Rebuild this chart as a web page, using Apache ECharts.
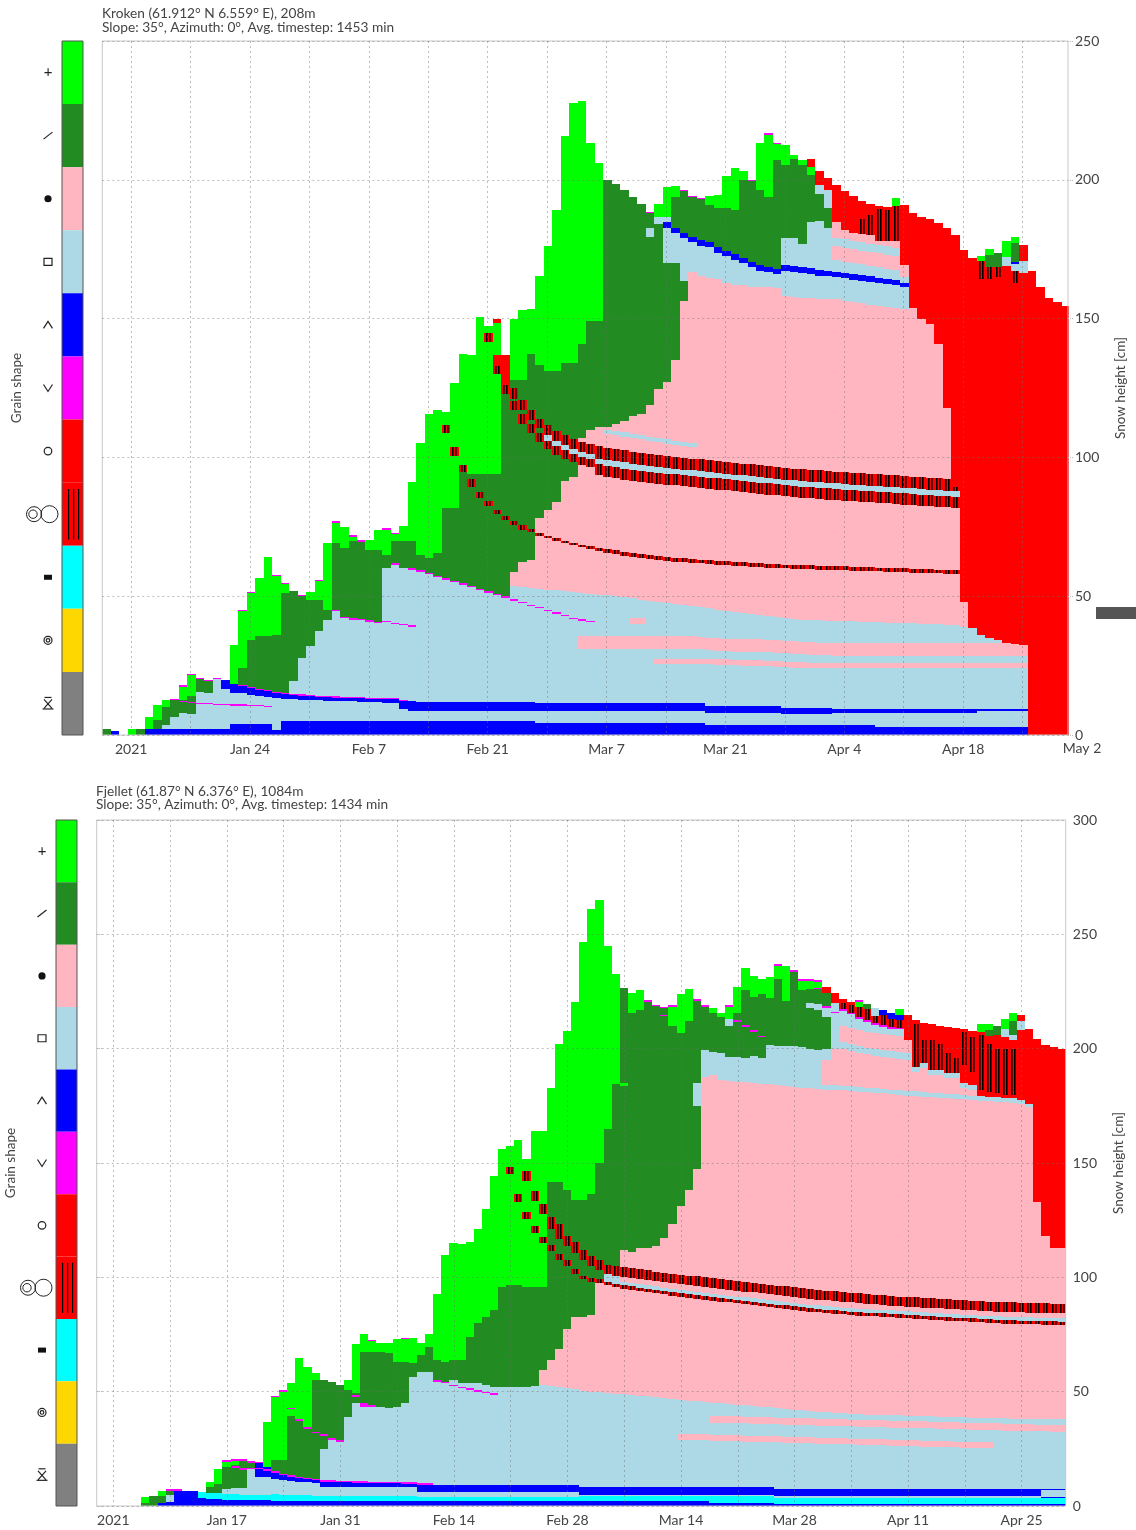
<!DOCTYPE html>
<html><head><meta charset="utf-8">
<script src="https://cdn.jsdelivr.net/npm/echarts@6/dist/echarts.min.js"></script>
<style>html,body{margin:0;padding:0;background:#fff}#c{width:1136px;height:1530px}</style>
</head><body><div id="c"></div>
<script>
// grain shape codes, colours and legend order
const grainCodes = ['g','d','p','l','b','m','r','c','i','y','k'];
const grainColors = ['#00ff00','#228b22','#ffb6c1','#add8e6','#0000ff','#ff00ff','#ff0000','#ff0000','#00ffff','#ffd700','#808080'];

// ---------- Kroken (top) : one string per daily column, "type+top height(cm)" from ground up
const krokenFirstColumnDay = 5.6; // days since Jan 1 2021 (left edge of first column)
const krokenColumns = [
"d2","b1.3","","g2","d2","b2 g6.5","b2 d5.4 g10.7","b2 l3.6 d10 g12.7","b2 l6.5 d12.5 m13.1",
"b2 l7.9 d11.8 m12.3 d12.6 g17.4 m17.9","b2 l7.5 d11.5 m12 d13.9 g21.6 m22.1",
"b2 l11.2 m11.7 l15.5 d20.3 m20.7","b2 l11 m11.5 l15 d19.5 m19.9","b2 l10.8 m11.3 l20.2 m20.7",
"b2 l10.7 m11.2 l16.5 b19.9","b4.1 l10.6 m11.1 l15.3 b18.5 g32.3",
"b4.1 l10.5 m11 l15.1 b17.7 m18.1 d24.3 g44.5 m45","b4.1 l10.4 m10.9 l14.5 b16.9 m17.3 d34.3 g51.1 m51.6",
"b4.1 l10.3 m10.8 l13.9 b16.3 m16.7 d35.5 g56.7","b4.1 l10.1 m10.6 l13.7 b15.7 m16.1 d35.5 g64.3",
"b1.9 l13.3 b15.1 m15.5 d36 g57.3 m57.8","b5.1 l13.1 b14.7 m15.1 d51.1 g54.3 m54.8",
"b5.1 l12.9 b14.5 m14.9 l19.3 d51.7","b5.1 l12.7 b14.2 m14.6 l27.7 d50 m50.4",
"b5.1 l12.6 b14 m14.4 l31.9 d48.7 g51.5","b5.1 l12.5 b13.8 m14.2 l37.3 d48.7 g55.5 m56",
"b5.1 l12.4 b13.6 m14 l41.5 d45.1 g69.1","b5.1 l12.3 b13.5 m13.9 l44.5 m45 d69.1 g76.5 m77",
"b5.1 l12.2 b13.4 m13.8 l42.1 m42.6 d67.3 g75.1","b5.1 l12.1 b13.3 m13.7 l41.5 m42 d70 g71.5 m71.9",
"b5.1 l12 b13.2 m13.6 l41.3 m41.8 d69.6 m70.1","b5.1 l11.9 b13.1 m13.5 l40.8 m41.3 d66.7 g70.3",
"b5.1 l11.8 b13 m13.4 l40.2 m40.7 d66.7 g73.9","b5.1 l11.7 b12.9 m13.3 l40.6 m41.1 l60.1 d64.9 g74 m74.5",
"b5.1 l11.6 b12.8 m13.2 l40 m40.5 l61.3 m61.8 d70 g72.5 m72.9","b5.1 l9.3 b12.1 m12.5 l39.5 m40 l60.1 d70 g75.3",
"b5 l8.8 b12.1 l39 m39.5 l59.5 m60 d70 g91","b5 l8.8 b12 l58.8 m59.3 d65 g105.1",
"b5 l8.8 b12 l57.9 m58.4 d63.7 g115.8","b5 l8.8 b12 l56.9 m57.4 d65.6 g117.1",
"b5 l8.8 b12 l56 m56.5 d81.7 g108.8 c111.7 g116.5","b5 l8.8 b12 l55 m55.5 d81.7 g100.4 c103.6 g126.8",
"b5 l8.8 b12 l54.1 m54.6 d94.7 c97.2 g137.1","b5 l8.8 b12 l53.2 m53.7 d89.5 c92.3 d94 g137",
"b5 l8.8 b12 l52.2 m52.7 d85.5 c87.5 d94 g150.6","b5 l8.8 b12 l51.3 m51.8 d82.5 c84.3 d94 g141.6 c144.8 g147.4",
"b5 l8.8 b12 l50.3 m50.8 d79.5 c81.1 d94 g130 c133 r136.8 g148.4 r150",
"b5 l8.8 b12 l49.4 m49.9 d77.3 c78.9 d123 c126 r136.8",
"b5 l8.8 b12 l48.4 m48.9 l53.5 p58.6 d75.5 c77 d117.1 c120.3 d121 c125 d128 g150",
"b5 l8.8 b12 l47.5 m48 l53.3 p62.4 d74 c75.5 d112 c115.8 d117 c120.5 d128 g153.2",
"b5 l8.8 b12 l46.5 m47 l53 p63 d73 c74.3 d108.8 c112 d113.5 c117 d137.1 g153.5",
"b4.5 l8.5 b11.5 l45.6 m46.1 l52.7 p71.8 c72.7 p78 d105.5 c108.8 d110.5 c114 d133.2 g165.4",
"b4.5 l8.5 b11.5 l44.7 m45.2 l52.4 p70.8 c71.7 p81 d103 c106 l108 c111.5 d131.3 g176.1",
"b4.5 l8.5 b11.5 l43.7 m44.2 l52.1 p70 c70.8 p84 d101 c104 l106 c109.5 d131.3 g189.2",
"b4.5 l8.5 b11.5 l42.8 m43.3 l51.8 p69.2 c70 p91.5 d99.5 c102.5 l104.5 c108 d133.9 g215.8",
"b4.5 l8.5 b11.5 l41.8 m42.3 l51.5 p68.4 c69.2 p93 d98.3 c101.3 l103 c106.5 d133.9 g227.8",
"b4.5 l8.5 b11.5 l31 p35.5 l41.2 m41.7 l51.2 p67.6 c68.4 p97.3 c100.3 l102 c105.5 p107 d140.9 g228.4",
"b4.5 l8.5 b11.5 l31 p35.5 l40.7 m41.2 l50.9 p66.9 c68.2 p96.5 c99.5 l101.2 c104.8 p110 d149.3 g213.3",
"b4.5 l8.5 b11.5 l31 p35.5 l50.6 p66.2 c67.5 p93.5 c97.5 l99.5 c104 p111 d149.3 g205.9",
"b4.5 l8.5 b11.5 l31 p35.5 l50.3 p65.6 c67 p93 c97 l99.2 c103.5 p108.5 l110 p111 d199.9",
"b4.5 l8.5 b11.5 l31 p35.5 l50 p65.1 c66.5 p92.5 c96.5 l98.7 c103 p108 l109.5 p112 d198.6",
"b4.5 l8.5 b11.5 l31 p35.5 l49.6 p64.6 c66 p92 c96 l98.2 c102.5 p107.5 l109 p113 d196.3",
"b4.5 l8.5 b11.5 l31 p35.5 l40 p42 l49.2 p64.2 c65.6 p91.5 c95.5 l97.5 c102 p107 l108.5 p115 d193.7",
"b4.5 l8.5 b11.5 l31 p35.5 l40 p42 l48.8 p63.8 c65.2 p91.2 c95.2 l97.3 c101.6 p106.5 l108 p115.8 d191.4",
"b4.5 l8.5 b11.5 l31 p35.5 l48.4 p63.4 c64.8 p90.8 c94.8 l97 c101.2 p106 l107.5 p119 d179.5 l182.7 d188 m188.5",
"b4.5 l8.5 b11.5 l25.5 p27.5 l31 p35.5 l48 p63.1 c64.5 p90.5 c94.5 l96.6 c100.8 p105.5 l107 p124.8 d184 l186.6 g191.4",
"b4.5 l8.5 b11.5 l25.5 p27.5 l31 p35.5 l47.6 p62.8 c64.2 p90.2 c94.2 l96.2 c100.5 p105 l106.5 p127 d170 l182.7 b184.7 l186.5 g197.3",
"b4.5 l8.5 b11.5 l25.5 p27.5 l31 p35.5 l47.2 p62.5 c63.9 p89.9 c93.9 l95.9 c100.2 p104.5 l106 p135 d170 l180.8 b182.7 d193.7 g197.6",
"b4.5 l8.5 b11.5 l25.5 p27.5 l31 p35.5 l46.8 p62.2 c63.6 p89.6 c93.6 l95.6 c99.9 p104 l105.5 p156.4 d163.4 l178.9 b180.8 d195.8 m196.3",
"b4.5 l8.5 b11.5 l25.5 p27.5 l31 p35.5 l46.4 p62 c63.4 p89.3 c93.3 l95.3 c99.6 p103.8 l105.2 p166.7 l177.6 b179.5 d193.8 m194.3",
"b4.5 l8.5 b11.5 l25.5 p27.5 l30.8 p35.3 l46 p61.8 c63.2 p89 c93 l95 c99.3 p165.4 l176.3 b178.2 d193 m193.4",
"b3.5 l8 b10.5 l25.4 p27.4 l30.6 p35.1 l45.6 p61.6 c63 p88.7 c92.7 l94.7 c99 p164.7 l175.7 b177.6 d191.1 g194",
"b3.5 l8 b10.5 l25.3 p27.3 l30.4 p34.9 l45.2 p61.4 c62.8 p88.4 c92.4 l94.4 c98.7 p164.1 l173.7 b175.7 d189.8 g194.7",
"b3.5 l8 b10.5 l25.2 p27.2 l30.2 p34.7 l44.8 p61.2 c62.6 p88.1 c92.1 l94.1 c98.4 p162.8 l172.5 b174.4 d189.8 g201.4",
"b3.5 l8 b10.5 l25.1 p27.1 l30 p34.5 l44.4 p61 c62.4 p87.8 c91.8 l93.8 c98.1 p162.2 l171.2 b173.1 d189.2 g204.4",
"b3.5 l8 b10.5 l25 p27 l30 p34.5 l44 p60.8 c62.2 p87.5 c91.5 l93.5 c97.8 p162.2 l169.9 b171.8 d200.1 g203",
"b3.5 l8 b10.5 l25 p27 l30 p34.5 l43.6 p60.6 c62 p87.2 c91.2 l93.2 c97.5 p161.5 l168.6 b170.5 d199.4 m199.9",
"b3.5 l8 b10.5 l25 p27 l30 p34.5 l43.2 p60.4 c61.8 p86.9 c90.9 l92.9 c97.2 p161.5 l167.3 b169.2 d196.3 g213.3",
"b3.5 l8 b10.5 l24.8 p26.8 l29.8 p34.3 l42.8 p60.2 c61.6 p86.6 c90.6 l92.6 c96.9 p161.5 l166.7 b168.6 d193.7 g216.3 m216.9",
"b3.5 l8 b10.5 l24.6 p26.6 l29.6 p34.1 l42.4 p60.1 c61.5 p86.3 c90.3 l92.3 c96.6 p161 l166 b168 d207.2 g212.8 m213.3",
"b3.5 l7.6 b9.8 l24.4 p26.4 l29.4 p33.9 l42 p60 c61.4 p86 c90 l92 c96.3 p158 l167.1 b169.3 l178.9 d205.3 g212.4",
"b3.5 l7.6 b9.8 l24.3 p26.3 l29.2 p33.7 l41.8 p59.9 c61.3 p85.7 c89.7 l91.7 c96 p157.8 l166.8 b169 l178.9 d207.5 g209",
"b3.5 l7.6 b9.8 l24.2 p26.2 l29 p33.5 l41.6 p59.8 c61.2 p85.4 c89.4 l91.4 c95.7 p157.6 l166.4 b168.6 l176.7 d205.3 g207.2",
"b3.5 l7.6 b9.8 l24.1 p26.1 l28.9 p33.4 l41.4 p59.7 c61.1 p85.2 c89.2 l91.2 c95.5 p157.4 l165.9 b168.3 l184.8 d201.7 g204.6 r207.5",
"b3.5 l7.6 b9.8 l24 p26 l28.8 p33.3 l41.3 p59.6 c61 p85 c89 l91 c95.3 p157.2 l165.5 b167.5 l185 d195 l198 r203.1",
"b3.5 l7.6 b9.8 l24 p26 l28.7 p33.2 l41.2 p59.5 c60.9 p84.8 c88.8 l90.8 c95.1 p157 l165.3 b167.3 l182.5 d190 l196.5 r200.5",
"b3.5 l8 b9.5 l24 p26 l28.6 p33.1 l41.1 p59.4 c60.8 p84.6 c88.6 l90.6 c94.9 p157 l164.9 b166.9 l171 p176 l179 p184.8 r198",
"b3.5 l8 b9.5 l24 p26 l28.5 p33 l41 p59.3 c60.7 p84.4 c88.4 l90.4 c94.7 p156.5 l164.5 b166.5 l170.5 p175.5 l178.5 p181.8 r195.8",
"b3.5 l8 b9.5 l24 p26 l28.5 p33 l40.9 p59.2 c60.6 p84.2 c88.2 l90.2 c94.5 p156 l164 b166 l170 p175 l178 p181 r194",
"b3.5 l8 b9.5 l24 p26 l28.5 p33 l40.8 p59.1 c60.5 p84 c88 l90 c94.3 p155.5 l163.6 b165.6 l169.5 p174.5 l177.5 p180.5 c186 r192.5",
"b3.5 l8 b9.5 l24 p26 l28.5 p33 l40.7 p59 c60.4 p83.8 c87.8 l89.8 c94.1 p155 l163.2 b165.2 l169 p174 l177 p180 c187.5 r191.4",
"b3 l8 b9.5 l24 p26 l28.5 p33 l40.6 p58.9 c60.3 p83.6 c87.6 l89.6 c93.9 p154.6 l162.8 b164.8 l168.5 p173.5 l176.5 p178 c189.5 r190.6",
"b3 l8 b9.5 l24 p26 l28.5 p33 l40.5 p58.8 c60.2 p83.4 c87.4 l89.4 c93.7 p154.2 l162.4 b164.4 l168 p173 l176 p178 c189 r190.2",
"b3 l8 b9.5 l24 p26 l28.5 p33 l40.4 p58.7 c60.1 p83.2 c87.2 l89.2 c93.5 p153.8 l162 b164 l167.5 p172.5 l175.5 p178 c190.6 g193.3",
"b3 l8 b9.5 l24 p26 l28.5 p33 l40.3 p58.6 c60 p83 c87 l89 c93.3 p153.5 l161.5 b163 l165 p169.3 r190.9",
"b3 l8 b9.5 l24 p26 l28.5 p33 l40.2 p58.5 c59.9 p82.8 c86.8 l88.8 c93.1 p153.8 r188",
"b3 l8 b9.5 l24 p26 l28.5 p33 l40.1 p58.4 c59.8 p82.6 c86.6 l88.6 c92.9 p149.8 r186.7",
"b3 l8 b9.5 l24 p26 l28.5 p33 l40 p58.3 c59.7 p82.4 c86.4 l88.4 c92.7 p148 r185.8",
"b3 l8 b9.5 l24 p26 l28.5 p33 l39.9 p58.2 c59.6 p82.2 c86.2 l88.2 c92.5 p140.7 r184.5",
"b3 l8 b9.5 l24 p26 l28.5 p33 l39.8 p58.1 c59.5 p82 c86 l88 c92.3 p117.9 r182.8",
"b3 l8 b9.5 l24 p26 l28.5 p33 l39.7 p58 c59.4 p81.8 c85.8 l87.8 c89.2 r180",
"b3 l8 b9.5 l24 p26 l28.5 p33 l39 p48 r174.8",
"b3 l8 b9.3 l24 p26 l28.5 p33 l38.5 r172",
"b3 l8.5 b9.3 l24 p26 l28.5 p33 l36 r164.2 c170.8 g172.7",
"b3 l8.5 b9.3 l24 p26 l28.5 p33 l34.8 r164.2 c168.6 d173 g175.2",
"b3 l8.5 b9.3 l24 p26 l28.5 p33 l34.1 r164.9 c168.6 d173.7",
"b3 l8.5 b9.3 l24 p26 l28.5 p33 r169 l172.3 g178",
"b3 l8.5 b9.3 l24 p26 l28.5 p32.9 r162.7 c167.1 l169.8 b170.5 d177.4 g179.3",
"b3 l8.5 b9.3 l24 p26 l28.5 p32.6 r166.4 l170.8 r176.4",
"r167.3","r161.5","r157.6","r156.1","r154.6"
];

// ---------- Fjellet (bottom)
const fjelletFirstColumnDay = -0.55;
const fjelletColumns = [
"","","","","","",
"d1.4 g3.8","d4.5","b1.5 d4.5 g6.5","b1.8 l4.8 d6.5 m7.4","b6.5 m7.4","b6.5","b6.5","b3.3 i6.3",
"b2.9 i5.8 d8.1 g10.6","b2.9 i5.5 d9.6 g16","b2.6 i5.3 l7.5 d17.2 g19.4 m20.1",
"b2.6 i5.2 l8 d16.6 m17.3 d17.8 g19.8 m20.5","b2.6 i5 l8 d15.8 m16.6 d19.7 m20.5",
"b2.6 i5 l16 m16.8 d19 m19.7","b2.6 i5 l12.8 b16 m16.8 b18.6 m19.4",
"b2.6 i5 l12.8 b15.5 m16.3 b17 g36.6","b2.3 i5.2 l12 b14.5 m15.2 d20.1 g47.5 m48.3",
"b2.3 i5 l11.4 b13.5 m14.2 d20.1 g50 m50.7","b2.3 i4.8 l11.1 b12.8 m13.5 d39.4 g42.3 m43 g53.6",
"b2.3 i4.7 l10.6 b12.1 m12.8 d37.3 m38 g64.6","b2.3 i4.6 l10.3 b11.6 m12.3 d33.7 m34.4 g60.6",
"b2.3 i4.5 l10 b11.3 m12 d31.8 m32.5 d55.1 g58.3","b2.2 i4.3 l8.4 b10.6 m11.3 l25 d30.6 m31.4 d55.1",
"b2.2 i4.3 l8.4 b10.5 m11.2 l28.9 m29.6 d54.4","b2.2 i4.3 l8.4 b10.4 m11.1 l28.1 m28.9 d52.9",
"b2.2 i4.3 l8.3 b10.3 m11 l39.1 d50.7 g55.1","b2.2 i4.3 l8.3 b10.2 m10.9 l44.9 d47.5 m48.5 d49.3 g70.7",
"b2.2 i4.3 l8.3 b10.1 m10.8 l43.4 m44.9 d67.5 g75.1","b2.2 i4.3 l8.3 b10 m10.7 l43.1 m44.2 d67.5 g72 m72.6",
"b2.2 i4.3 l8.2 b9.9 m10.6 l43.4 d67.5 g71.1","b2.2 i4.3 l8.2 b9.9 m10.6 l42.7 d66.8 g71.1",
"b2.2 i4.3 l8.2 b9.9 m10.6 l43.4 d63.1 g72.9","b2.2 i4.3 l8.2 b9.8 m10.5 l44.9 d63.1 g72.9 m73.6",
"b2 i4.3 l8.1 b9.8 m10.5 l56.6 d62.4 g73.6","b2 i4 l6.3 b9.2 m9.9 l58.7 d66 g71.1",
"b2 i4 l6.3 b9.2 m9.9 l58.7 d69.7 g75.1","b2 i4 l6.3 b9.2 l54.4 m55.1 d63.8 g92.6",
"b2 i4 l6.1 b9.2 l53.6 m54.3 d63.1 g109.8","b2 i4 l6.1 b9.2 l52.3 m53 l55.1 d63.8 g115.2",
"b2 i4 l6 b9.2 l51.5 m52.2 l53.6 d63.8 g114.4","b2 i4 l6 b9.2 l50.8 m51.5 l53.6 d74 g115.6",
"b2 i4 l6 b9.2 l50 m50.7 l53.6 d79.9 g121","b2 i4 l6 b9.2 l49.3 m50 l52.9 d82.8 g129.7",
"b2 i4 l6 b9.2 l48.6 m49.3 l51.9 d85.7 g144.3","b2 i4 l6 b9.2 l51.9 d95.6 g156.1",
"b2 i4 l6 b9.2 l51.9 d96.5 g145.3 c148.4 g157.4","b2 i4 l6 b9.2 l52 d96.5 g132.8 c136.3 g160.1",
"b2 i4 l6 b9.2 l52.2 d95.6 g125.6 c128.5 g142.3 c146.6 g151.8",
"b2 i4 l6 b9.2 l52.4 d95.6 g119.3 c122.4 g133.2 c137.9 g163.9",
"b2 i4 l6 b9.2 l53 p59.3 d95.6 g115 c117.6 g127.6 c131.9 g163.9",
"b2 i4 l6 b9.2 l52.5 p63.7 d111.7 c114.1 d121 c126.2 d141.5 g183",
"b2 i4 l6 b9.2 l52 p68.8 d107.7 c110.3 d116.9 c123.3 d141.5 g202",
"b2 i4 l6 b9.2 l51.5 p77.5 d105.1 c107.7 d113.8 c118.1 d138 g207.7",
"b2 i4 l6 b9.2 l51 p82.7 d101.3 c103.8 d110.7 c115.5 d133.7 g220.6",
"b2 i4.3 l5 b8.5 l50.5 p82.7 d99.1 c100.8 d107.7 c112.1 d133.7 g246.6",
"b2 i4.3 l5 b8.5 l50 p83.5 d97.9 c99.9 d105.1 c109.5 d136.3 g261.1",
"b2 i4.3 l5 b8.5 l49.7 p97.4 c99.1 d103.4 c107.7 d150.1 g265.1",
"b2 i4.3 l5 b8.5 l49.4 p96.5 c98 l101.3 c105.5 d164.8 g244.7",
"b2 i4.3 l5 b8.5 l49.1 p95.8 c97.3 l100.8 c105 d184.7 g232.6",
"b2 i4.3 l5 b8.5 l48.8 p95.1 c96.6 l98 p100.3 c104.5 p112 d183.8 g185.2 d226.5",
"b2 i4.3 l5 b8.5 l48.5 p94.5 c96 l97.5 p99.8 c104 p111.2 d215.8 g224.4",
"b2 i4.3 l5 b8.5 l48.2 p94 c95.5 l97 p99.3 c103.5 p113 d216.7 g225.8",
"b2 i4.3 l5 b8.5 l47.9 p93.5 c95 l96.5 p98.8 c103 p113 d220.6 m221.3",
"b2 i4.3 l5 b8.5 l47.6 p93 c94.5 l96 p98.3 c102.5 p113.8 d218.6 m219.3",
"b2 i4.3 l5 b8.5 l47.3 p92.5 c94 l95.5 p97.8 c102 p117.3 d214.2 m214.9 d217.7 m218.4",
"b2 i4.3 l5 b8.5 l47 p92 c93.5 l95 p97.4 c101.6 p123.3 d210 g218.3 m219",
"b2 i4.3 l5 b8.5 l29 p31.6 l46.4 p91.5 c93 l94.5 p97 c101.2 p131.1 d207 g224.1",
"b2 i4.3 l5 b8.5 l28.9 p31.5 l46.1 p91 c92.5 l94 p96.6 c100.8 p138 d212 g226.2",
"b2 i4.3 l5 b8.5 l28.8 p31.4 l45.8 p90.6 c92.1 l93.6 p96.2 c100.4 p147.5 d175 l185 d221 m221.7",
"b2 i4.3 l5 b8.5 l28.7 p31.3 l45.5 p90.2 c91.7 l93.2 p95.8 c100 p187.7 l199.4 d218.4 m219.1",
"b1.5 i4.3 l5 b8.5 l28.6 p31.2 l36.5 p39.5 l45.2 p89.8 c91.3 l92.8 p95.4 c99.6 p188.5 l198.7 d215.5 g217.9",
"b1.5 i4.3 l5 b8.5 l28.5 p31.1 l36.4 p39.4 l44.9 p89.4 c90.9 l92.4 p95 c99.2 p186.3 l198 d213.7 g215.8",
"b1.5 i4.3 l5 b8.5 l28.4 p31 l36.3 p39.3 l44.6 p89 c90.5 l92 p94.6 c98.8 p186 l196.5 d210 l213 g218.4 m218.9",
"b1.5 i4.3 l5 b8.5 l28.3 p30.9 l36.2 p39.2 l44.3 p88.6 c90.1 l91.6 p94.2 c98.4 p185.6 l196.5 d211.8 m212.5 d215.5 g227",
"b1.5 i4.3 l5 b8.5 l28.2 p30.8 l36.1 p39.1 l44 p88.2 c89.7 l91.2 p93.8 c98 p185.3 l196 d209.6 m210.3 d225.6 g235.3",
"b1.5 i4.3 l5 b8.5 l28.1 p30.7 l36 p39 l43.7 p87.8 c89.3 l90.8 p93.4 c97.6 p185 l197 d207.5 m208.2 d222.7 g231.7",
"b1.5 i4.3 l5 b8.5 l28 p30.6 l35.9 p38.9 l43.4 p87.4 c88.9 l90.4 p93 c97.2 p184.7 l196 d205 m205.5 d224 g230.5",
"b1.5 i4.3 l5 b8.5 l27.9 p30.5 l35.8 p38.8 l43.1 p87 c88.5 l90 p92.6 c96.8 p184.4 l201.6 d222 g231.4",
"b1 i3.3 l4.2 b7.4 l27.8 p30.4 l35.7 p38.7 l42.8 p86.6 c88.1 l89.6 p92.2 c96.4 p184 l201 d230.3 g236.2 m236.9",
"b1 i3.3 l4.2 b7.4 l27.7 p30.3 l35.6 p38.6 l42.5 p86.2 c87.7 l89.2 p91.8 c96 p183.7 l201 d221 g236.2",
"b1 i3.3 l4.2 b7.4 l27.6 p30.2 l35.5 p38.5 l42.2 p85.8 c87.3 l88.8 p91.4 c95.6 p183.4 l201 d233.6 m234.3",
"b1 i3.3 l4.2 b7.4 l27.5 p30.1 l35.4 p38.4 l41.9 p85.4 c86.9 l88.4 p91 c95.2 p183 l200.9 d225.6 g229.8 m230.5",
"b1 i3.3 l4.2 b7.4 l27.4 p30 l35.3 p38.3 l41.6 p85 c86.5 l88 p90.6 c94.8 p182.7 l200 d218 l220 d226 g229.6 m230.3",
"b1 i3.3 l4.2 b7.4 l27.3 p29.9 l35.2 p38.2 l41.3 p84.7 c86.2 l87.7 p90.3 c94.5 p182.4 l199.5 d217 l219.5 d226 m226.7 g229.3 m230",
"b1 i3.3 l4.2 b7.4 l27.2 p29.8 l35.1 p38.1 l41 p84.4 c85.9 l87.4 p90 c94.2 p182 l184 p195 l200 d214 l218 m218.7 d224.2 r227",
"b1 i3.3 l4.2 b7.4 l27.1 p29.7 l35 p38 l40.8 p84.1 c85.6 l87.1 p89.7 c93.9 p182 l184 p200 l215.5 m216.2 l220 r224.5",
"b1 i3.3 l4.2 b7.4 l27 p29.6 l34.9 p37.9 l40.6 p83.8 c85.3 l86.8 p89.4 c93.6 p181.8 l183.8 p200 l203 p210 l216.5 m217.2 c220.1 r221.7",
"b1 i3.3 l4.2 b7.4 l26.9 p29.5 l34.8 p37.8 l40.4 p83.5 c85 l86.5 p89.1 c93.3 p181.5 l183.5 p199 l202 p209 l215 m215.7 c219 r220.4",
"b1 i3.3 l4.2 b7.4 l26.8 p29.4 l34.7 p37.7 l40.2 p83.3 c84.8 l86.3 p88.8 c93 p181.2 l183.2 p198 l201 p208 l213 m213.8 c218.4 g220.6 m221.2",
"b1 i3.3 l4.2 b7.4 l26.7 p29.3 l34.6 p37.6 l40 p83.1 c84.6 l86.1 p88.5 c92.7 p181 l183 p197.5 l200.5 p207.5 l211.8 m212.5 c217.5 d219.6",
"b1 i3.3 l4.2 b7.4 l26.6 p29.2 l34.5 p37.5 l39.9 p82.9 c84.4 l85.9 p88.2 c92.4 p180.7 l182.7 p197 l200 p207 l210.5 m211.2 c214.5 l217.7",
"b1 i3.3 l4.2 b7.4 l26.5 p29.1 l34.4 p37.4 l39.8 p82.7 c84.2 l85.7 p87.9 c92.1 p180.4 l182.4 p196.5 l199.5 p206.5 l209.6 m210.3 c214.7 b216.7",
"b1 i3.3 l4.2 b7.4 l26.4 p29 l34.3 p37.3 l39.7 p82.5 c84 l85.5 p87.6 c91.8 p180.1 l182.1 p196 l199 p206 l208.8 m209.5 c213 b215.6",
"b1 i3.3 l4.2 b7.4 l26.3 p28.9 l34.3 p37.3 l39.6 p82.3 c83.8 l85.3 p87.4 c91.6 p179.8 l181.8 p195.5 l198.5 p205.5 l208.5 m209.2 c212.5 b214.7 g217.5",
"b1 i3.3 l4.2 b7.4 l26.2 p28.8 l34.2 p37.2 l39.5 p82.1 c83.6 l85.1 p87.2 c91.4 p179.5 l181.5 p195 l198 p203.8 r214.8",
"b1 i3.3 l4.2 b7.4 l26.1 p28.7 l34.1 p37.1 l39.4 p81.9 c83.4 l84.9 p87 c91.2 p179.3 l181.3 p190 l192.1 c211 r212.6",
"b1 i3.3 l4.2 b7.4 l26 p28.6 l34 p37 l39.3 p81.7 c83.2 l84.7 p86.8 c91 p179 l181 p191.5 l193.6 c203.8 r211.2",
"b1 i3.3 l4.2 b7.4 l25.9 p28.5 l33.9 p36.9 l39.2 p81.5 c83 l84.5 p86.6 c90.8 p178.8 l180.8 p188.7 l190.7 c203.8 r210.7",
"b1 i3.3 l4.2 b7.4 l25.8 p28.4 l33.8 p36.8 l39.1 p81.3 c82.8 l84.3 p86.4 c90.6 p178.5 l180.5 p188.7 l190.7 c202 r209.9",
"b1 i3.3 l4.2 b7.4 l25.7 p28.3 l33.7 p36.7 l39 p81.1 c82.6 l84.1 p86.2 c90.4 p178.3 l180.3 p187.2 l189.2 c198 r209.6",
"b1 i3.3 l4.2 b7.4 l25.6 p28.2 l33.6 p36.6 l38.9 p80.9 c82.4 l83.9 p86 c90.2 p178 l180 p187.2 l189.2 c196 r209.1",
"b1 i3.3 l4.2 b7.4 l25.5 p28.1 l33.5 p36.5 l38.8 p80.7 c82.2 l83.7 p85.8 c90 p177.8 l179.8 p183 l184.8 r192.8 c207.4 r208.6",
"b1 i3.3 l4.2 b7.4 l25.4 p28 l33.4 p36.4 l38.7 p80.5 c82 l83.5 p85.6 c89.8 p177.5 l179.5 p182 l184.1 r190 c205 r207.9",
"b1 i3.3 l4.2 b7.4 l25.3 p27.9 l33.3 p36.3 l38.6 p80.3 c81.8 l83.3 p85.4 c89.6 p177.2 l179.2 r181.9 c206 r207.4 g211",
"b1 i3.3 l4.2 b7.4 l25.2 p27.8 l33.2 p36.2 l38.5 p80.1 c81.6 l83.1 p85.2 c89.4 p177 l179 r181.2 c202 r205.5 d208 g211",
"b1 i3.3 l4.2 b7.4 l33.1 p36.1 l38.4 p79.9 c81.4 l82.9 p85 c89.2 p176.8 l178.8 r180.5 c200 r206 d209.9",
"b1 i3.3 l4.2 b7.4 l33 p36 l38.3 p79.8 c81.3 l82.8 p84.9 c89.1 p176.6 l178.6 r179.7 c200 r205 l208.5 g212.8",
"b1 i3.3 l4.2 b7.4 l32.9 p35.9 l38.2 p79.7 c81.2 l82.7 p84.8 c89 p176.4 l178.4 r179.7 c200 r204 l206 d212 g215.6",
"b1 i3.3 l4.2 b7.4 l32.8 p35.8 l38.1 p79.6 c81.1 l82.6 p84.7 c88.9 p176 l177.5 r208.3 l212.3 r214.8",
"b1 i3.3 l4.2 b7.4 l32.7 p35.7 l38.1 p79.5 c81 l82.5 p84.6 c88.8 p174.5 l175.9 r208.6",
"b1 i3.3 l4.2 b7.4 l32.6 p35.6 l38 p79.4 c80.9 l82.4 p84.5 c88.7 p132.9 r204.2",
"b1 i3.3 b3.8 l6.8 b7.4 l32.6 p35.6 l38 p79.3 c80.8 l82.3 p84.4 c88.6 p117.9 r201.8",
"b1 i3.3 b3.8 l6.8 b7.4 l32.5 p35.5 l38 p79.2 c80.7 l82.2 p84.3 c88.5 p112.7 r200.7",
"b1 i3.3 b3.8 l6.8 b7.4 l32.5 p35.5 l38 p79.1 c80.6 l82.1 p84.2 c88.4 p112.7 r199.8"
];

// axes: days since Jan 1 2021
const krokenRange = [5.6, 119.35];
const krokenGridDays = [9,16,23,30,37,44,51,58,65,72,79,86,93,100,107,114];
const krokenLabelDays = [9,23,37,51,65,79,93,107,121];
const krokenLabelTexts = ['2021','Jan 24','Feb 7','Feb 21','Mar 7','Mar 21','Apr 4','Apr 18','May 2'];
const krokenHeightMax = 250;

const fjelletRange = [-0.05, 119.44];
const fjelletGridDays = [2,9,16,23,30,37,44,51,58,65,72,79,86,93,100,107,114];
const fjelletLabelDays = [2,16,30,44,58,72,86,100,114];
const fjelletLabelTexts = ['2021','Jan 17','Jan 31','Feb 14','Feb 28','Mar 14','Mar 28','Apr 11','Apr 25'];
const fjelletHeightMax = 300;

const legendSymbols = ['+','/','●','□','^','v','○','crust','▬','◎','ice'];

function toSegments(cols, firstDay) {
  const out = [];
  cols.forEach((s, k) => {
    if (!s) return;
    let prev = 0;
    s.split(' ').forEach(tok => {
      const t = grainCodes.indexOf(tok[0]);
      const top = parseFloat(tok.slice(1));
      out.push([firstDay + k, firstDay + k + 1, prev, top, t]);
      prev = top;
    });
  });
  return out;
}

function renderItem(params, api) {
  const a = api.coord([api.value(0), api.value(3)]);
  const b = api.coord([api.value(1), api.value(2)]);
  const left = Math.round(a[0]), right = Math.round(b[0]);
  let top = Math.round(a[1]), bottom = Math.round(b[1]);
  if (bottom - top < 1) bottom = top + 1;
  const t = api.value(4);
  const rect = {type: 'rect', shape: {x: left, y: top, width: right - left, height: bottom - top},
    style: {fill: grainColors[t]}};
  if (grainCodes[t] === 'c') {
    const w = right - left;
    return {type: 'group', children: [rect,
      {type: 'rect', shape: {x: left + Math.round(w * 0.22), y: top, width: 1.6, height: bottom - top}, style: {fill: '#000'}},
      {type: 'rect', shape: {x: left + Math.round(w * 0.6), y: top, width: 1.6, height: bottom - top}, style: {fill: '#000'}}
    ]};
  }
  return rect;
}

const textColor = '#444';
const font = 'Lato, "Noto Sans", sans-serif';

function xAxisFor(gridIndex, range, gridDays, labelDays, labelTexts) {
  return {
    type: 'value', gridIndex, min: range[0], max: range[1], z: 10,
    axisLine: {show: false},
    axisTick: {show: false, customValues: gridDays},
    splitLine: {show: true, lineStyle: {color: 'rgba(110,110,110,0.45)', type: [2, 3], width: 1}},
    axisLabel: {customValues: labelDays.filter(d => d <= range[1]), margin: 7, color: textColor, fontSize: 14, fontFamily: font,
      formatter: v => labelTexts[labelDays.indexOf(Math.round(v))] || ''}
  };
}
function yAxisFor(gridIndex, maxH) {
  return {
    type: 'value', gridIndex, position: 'right', min: 0, max: maxH, interval: 50, z: 10,
    name: 'Snow height [cm]', nameLocation: 'middle', nameRotate: 90, nameGap: 46,
    nameTextStyle: {color: textColor, fontSize: 13.5, fontFamily: font},
    axisLine: {show: false},
    axisTick: {show: true, length: 5, lineStyle: {color: '#bbb', type: [1, 1]}},
    splitLine: {show: true, lineStyle: {color: 'rgba(110,110,110,0.45)', type: [2, 3], width: 1}},
    axisLabel: {margin: 7, color: textColor, fontSize: 14, fontFamily: font}
  };
}

function legendGraphics(barX, barTop, barH, symX) {
  const els = [];
  const n = grainColors.length, seg = barH / n;
  for (let i = 0; i < n; i++) {
    const y0 = barTop + seg * i;
    els.push({type: 'rect', shape: {x: barX, y: y0, width: 21, height: seg}, style: {fill: grainColors[i]}});
    if (grainCodes[i] === 'c') {
      [6, 11, 16].forEach(dx => els.push({type: 'rect', shape: {x: barX + dx, y: y0 + seg * 0.1, width: 1.2, height: seg * 0.8}, style: {fill: '#000'}}));
    }
    const cy = y0 + seg / 2, cx = symX;
    const st = {stroke: '#222', lineWidth: 1.2, fill: null};
    switch (legendSymbols[i]) {
      case '+': els.push({type: 'text', x: cx, y: cy, style: {text: '+', fill: '#222', font: '15px ' + font, align: 'center', verticalAlign: 'middle'}}); break;
      case '/': els.push({type: 'line', shape: {x1: cx - 4.5, y1: cy + 3.5, x2: cx + 4.5, y2: cy - 3.5}, style: st}); break;
      case '●': els.push({type: 'circle', shape: {cx, cy, r: 3.6}, style: {fill: '#111'}}); break;
      case '□': els.push({type: 'rect', shape: {x: cx - 4, y: cy - 3.5, width: 8, height: 7}, style: st}); break;
      case '^': els.push({type: 'polyline', shape: {points: [[cx - 4.5, cy + 3.5], [cx, cy - 3.5], [cx + 4.5, cy + 3.5]]}, style: st}); break;
      case 'v': els.push({type: 'polyline', shape: {points: [[cx - 4.5, cy - 3.5], [cx, cy + 3.5], [cx + 4.5, cy - 3.5]]}, style: st}); break;
      case '○': els.push({type: 'circle', shape: {cx, cy, r: 3.8}, style: st}); break;
      case 'crust':
        els.push({type: 'circle', shape: {cx: cx - 14, cy, r: 7.5}, style: {stroke: '#222', lineWidth: 1, fill: null}});
        els.push({type: 'circle', shape: {cx: cx - 15, cy, r: 4.2}, style: {stroke: '#222', lineWidth: 1, fill: null}});
        els.push({type: 'circle', shape: {cx: cx + 1.5, cy, r: 8.5}, style: {stroke: '#222', lineWidth: 1, fill: null}});
        break;
      case '▬': els.push({type: 'rect', shape: {x: cx - 4, y: cy - 2.5, width: 8, height: 5}, style: {fill: '#111'}}); break;
      case '◎':
        els.push({type: 'circle', shape: {cx, cy, r: 4}, style: st});
        els.push({type: 'circle', shape: {cx, cy, r: 1.8}, style: st});
        break;
      case 'ice':
        els.push({type: 'line', shape: {x1: cx - 3.5, y1: cy - 6, x2: cx + 3.5, y2: cy - 6}, style: st});
        els.push({type: 'line', shape: {x1: cx - 4, y1: cy - 4, x2: cx + 4, y2: cy + 5}, style: st});
        els.push({type: 'line', shape: {x1: cx + 4, y1: cy - 4, x2: cx - 4, y2: cy + 5}, style: st});
        els.push({type: 'line', shape: {x1: cx - 5.5, y1: cy + 5.5, x2: cx + 5.5, y2: cy + 5.5}, style: st});
        break;
    }
  }
  els.push({type: 'rect', shape: {x: barX, y: barTop, width: 21, height: barH}, style: {fill: null, stroke: '#555', lineWidth: 1}});
  return els;
}

function textEl(x, y, text, rot, size) {
  return {type: 'text', x, y, rotation: rot || 0,
    style: {text, fill: textColor, font: (size || 13.7) + 'px ' + font, align: rot ? 'center' : 'left', verticalAlign: 'middle'}};
}

const chart = echarts.init(document.getElementById('c'), null, {renderer: 'canvas'});
const option = {
  animation: false,
  backgroundColor: '#fff',
  grid: [
    {left: 102.3, top: 41, width: 968.4, height: 694, show: true, borderColor: '#c8c8c8', borderWidth: 1, z: 10, backgroundColor: 'transparent'},
    {left: 96.7, top: 820, width: 969, height: 686, show: true, borderColor: '#c8c8c8', borderWidth: 1, z: 10, backgroundColor: 'transparent'}
  ],
  xAxis: [
    xAxisFor(0, krokenRange, krokenGridDays, krokenLabelDays, krokenLabelTexts),
    xAxisFor(1, fjelletRange, fjelletGridDays, fjelletLabelDays, fjelletLabelTexts)
  ],
  yAxis: [yAxisFor(0, krokenHeightMax), yAxisFor(1, fjelletHeightMax)],
  series: [
    {type: 'custom', xAxisIndex: 0, yAxisIndex: 0, clip: true, renderItem, encode: {x: [0, 1], y: [2, 3]},
      data: toSegments(krokenColumns, krokenFirstColumnDay), silent: true},
    {type: 'custom', xAxisIndex: 1, yAxisIndex: 1, clip: true, renderItem, encode: {x: [0, 1], y: [2, 3]},
      data: toSegments(fjelletColumns, fjelletFirstColumnDay), silent: true}
  ],
  graphic: []
};
chart.setOption(option);

// texts, legend bars, out-of-range last date label
const mayX = chart.convertToPixel({xAxisIndex: 0}, 121);
const g = [];
g.push(textEl(102, 14, 'Kroken (61.912° N 6.559° E), 208m'));
g.push(textEl(102, 27.5, 'Slope: 35°, Azimuth: 0°, Avg. timestep: 1453 min'));
g.push(textEl(96, 791.5, 'Fjellet (61.87° N 6.376° E), 1084m'));
g.push(textEl(96, 805, 'Slope: 35°, Azimuth: 0°, Avg. timestep: 1434 min'));
g.push(textEl(17, 388, 'Grain shape', Math.PI / 2, 13.5));
g.push(textEl(11, 1163, 'Grain shape', Math.PI / 2, 13.5));
g.push({type: 'text', x: mayX, y: 748.5, style: {text: krokenLabelTexts[krokenLabelTexts.length - 1], fill: textColor, font: '14px ' + font, align: 'center', verticalAlign: 'middle'}});
g.push({type: 'rect', shape: {x: 1096, y: 607, width: 40, height: 12}, style: {fill: '#555'}});
legendGraphics(62, 41, 694, 48).forEach(e => g.push(e));
legendGraphics(56, 820, 686, 42).forEach(e => g.push(e));
chart.setOption({graphic: g});
</script>
</body></html>
